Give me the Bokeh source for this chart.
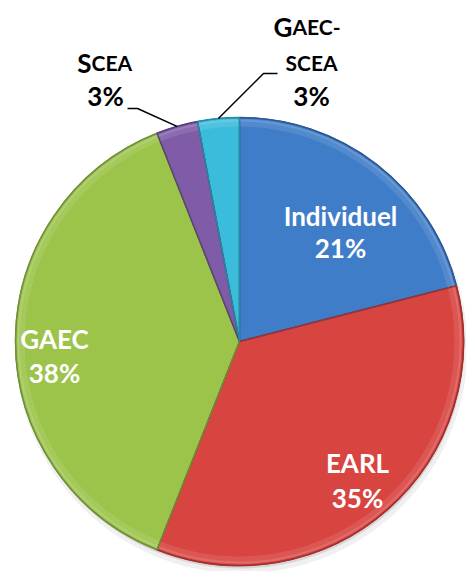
import math
from bokeh.plotting import figure
from bokeh.models import Range1d
from bokeh.embed import file_html
from bokeh.resources import INLINE
from bokeh.core.properties import value

# ---- data ----
categories = ["Individuel", "EARL", "GAEC", "SCEA", "GAEC-SCEA"]
shares = [21, 35, 38, 3, 3]
pct_labels = ["21%", "35%", "38%", "3%", "3%"]
colors = ["#3F7DC8", "#D84541", "#9CC34A", "#7F5BA8", "#3BBCDB"]
edge_colors = ["#2C5A94", "#A3302E", "#71903A", "#5A3F7E", "#2789A3"]

# ---- layout (page pixel coordinates; the Bokeh page template has no body margin) ----
W, H = 466, 571
def Y(ys):
    return H - ys

cx, cy = 239, Y(341)
R = 224

p = figure(width=W, height=H, x_range=Range1d(0, W), y_range=Range1d(0, H),
           output_backend="svg", toolbar_location=None, min_border=0,
           x_axis_location=None, y_axis_location=None)
p.grid.visible = False
p.outline_line_color = None
p.background_fill_color = "white"
p.border_fill_color = "white"

# shadow
p.circle(x=[cx + 2], y=[cy - 6], radius=R + 2, fill_color="black", fill_alpha=0.06, line_color=None)
p.circle(x=[cx + 1], y=[cy - 3], radius=R, fill_color="black", fill_alpha=0.10, line_color=None)

total = float(sum(shares))
starts, ends, mids = [], [], []
cum = 0.0
for s in shares:
    a0 = math.pi / 2 - 2 * math.pi * cum / total
    cum += s
    a1 = math.pi / 2 - 2 * math.pi * cum / total
    starts.append(a0)
    ends.append(a1)
    mids.append((a0 + a1) / 2)

src = dict(x=[cx] * len(shares), y=[cy] * len(shares), start=starts, end=ends,
           color=colors, edge=edge_colors)
p.wedge(x="x", y="y", radius=R, start_angle="start", end_angle="end", direction="clock",
        fill_color="color", line_color="edge", line_width=1.5, source=src)
# bevel highlights
p.annular_wedge(x="x", y="y", inner_radius=R - 9, outer_radius=R - 2, start_angle="start",
                end_angle="end", direction="clock", fill_color="white", fill_alpha=0.10,
                line_color=None, source=src)
p.annular_wedge(x="x", y="y", inner_radius=R - 4, outer_radius=R - 1.5, start_angle="start",
                end_angle="end", direction="clock", fill_color="white", fill_alpha=0.12,
                line_color=None, source=src)
p.wedge(x="x", y="y", radius=R, start_angle="start", end_angle="end", direction="clock",
        fill_color=None, line_color="edge", line_width=1.2, source=src)

FONT = value("Lato")
FS = "26px"
FS_SMALL = "21px"

# inner labels
inner = [(0, 340, 215, 247), (1, 357, 462, 497), (2, 54, 338, 372)]
for i, x, y1, y2 in inner:
    p.text(x=[x], y=[Y(y1)], text=[categories[i]], text_color="white", text_font=FONT,
           text_font_style="bold", text_font_size=FS, text_align="center", text_baseline="middle")
    p.text(x=[x], y=[Y(y2)], text=[pct_labels[i]], text_color="white", text_font=FONT,
           text_font_style="bold", text_font_size=FS, text_align="center", text_baseline="middle")

# outer labels (small caps style)
def txt(x, y, t, size, align):
    p.text(x=[x], y=[Y(y)], text=[t], text_color="black", text_font=FONT,
           text_font_style="bold", text_font_size=size, text_align=align,
           text_baseline="alphabetic")

# SCEA
txt(91, 62, "S", FS, "right")
txt(91, 62, categories[3][1:], FS_SMALL, "left")
p.text(x=[105], y=[Y(95)], text=[pct_labels[3]], text_color="black", text_font=FONT,
       text_font_style="bold", text_font_size=FS, text_align="center", text_baseline="middle")
# GAEC-SCEA
top, bottom = categories[4].split("-")
txt(292, 26, top[0], FS, "right")
txt(292, 26, top[1:] + "-", FS_SMALL, "left")
txt(311, 62, bottom, FS_SMALL, "center")
p.text(x=[311], y=[Y(95)], text=[pct_labels[4]], text_color="black", text_font=FONT,
       text_font_style="bold", text_font_size=FS, text_align="center", text_baseline="middle")

# leader lines from slice mid-angle on the rim
leaders = [(3, 127, 108, 137, 108), (4, 277, 73, 263, 73)]
for i, lx, ly, kx, ky in leaders:
    ex = cx + R * math.cos(mids[i])
    ey = cy + R * math.sin(mids[i])
    p.line(x=[lx, kx, ex], y=[Y(ly), Y(ky), ey], line_color="black", line_width=1.5)

open("out.html", "w").write(file_html(p, INLINE))
